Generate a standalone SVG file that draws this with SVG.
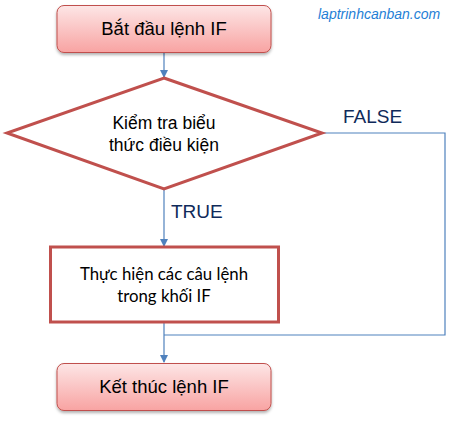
<svg xmlns="http://www.w3.org/2000/svg" width="451" height="423" viewBox="0 0 451 423">
<style>
.term{stroke:#c0504d;stroke-width:1;}
.shape{fill:#fff;stroke:#c0504d;stroke-width:3;}
.conn{fill:none;stroke:#4f81bd;stroke-width:1.2;}
.t{font-family:"Liberation Sans",Arial,sans-serif;fill:#000;text-anchor:middle;}
.lab{font-family:"Liberation Sans",Arial,sans-serif;fill:#0f2a5a;font-size:19px;}
.c{font-family:Lato,"Open Sans",sans-serif;fill:#000;text-anchor:middle;font-size:16.8px;}
</style>
<defs>
<linearGradient id="g" x1="0" y1="0" x2="0" y2="1">
<stop offset="0" stop-color="#fde6e6"/>
<stop offset="1" stop-color="#f8a3a2"/>
</linearGradient>
<filter id="sh" x="-10%" y="-10%" width="120%" height="140%">
<feDropShadow dx="0" dy="2" stdDeviation="1.5" flood-color="#000" flood-opacity="0.3"/>
</filter>
<marker id="a" markerWidth="8" markerHeight="8" refX="7" refY="4" orient="auto" markerUnits="userSpaceOnUse">
<path d="M0,0 L8,4 L0,8 z" fill="#4f81bd"/>
</marker>
</defs>
<text x="318" y="19" font-family="Liberation Sans,Arial,sans-serif" font-style="italic" font-size="14" fill="#1f7fd6">laptrinhcanban.com</text>
<g id="connectors">
<line class="conn" x1="164" y1="53" x2="164" y2="77" marker-end="url(#a)"/>
<line class="conn" x1="164" y1="190" x2="164" y2="246" marker-end="url(#a)"/>
<polyline class="conn" points="322,133 445,133 445,335 164,335"/>
<line class="conn" x1="164" y1="323" x2="164" y2="362" marker-end="url(#a)"/>
<text class="lab" x="343" y="123">FALSE</text>
<text class="lab" x="171" y="218">TRUE</text>
</g>
<g id="start">
<rect class="term" x="57" y="5.5" width="214" height="47" rx="7" fill="url(#g)" filter="url(#sh)"/>
<text class="t" x="164" y="35" font-size="18.5">Bắt đầu lệnh IF</text>
</g>
<g id="cond">
<polygon class="shape" points="164,78 322,133 164,189 7,133"/>
<text class="t" x="164" y="129" font-size="17.5">Kiểm tra biểu</text>
<text class="t" x="164" y="151" font-size="17.5">thức điều kiện</text>
</g>
<g id="body">
<rect class="shape" x="50.5" y="247" width="228" height="75"/>
<text class="c" x="164" y="280">Thực hiện các câu lệnh</text>
<text class="c" x="164" y="302">trong khối IF</text>
</g>
<g id="end">
<rect class="term" x="57" y="363.5" width="214" height="47" rx="7" fill="url(#g)" filter="url(#sh)"/>
<text class="t" x="164" y="393" font-size="18.5">Kết thúc lệnh IF</text>
</g>
</svg>
